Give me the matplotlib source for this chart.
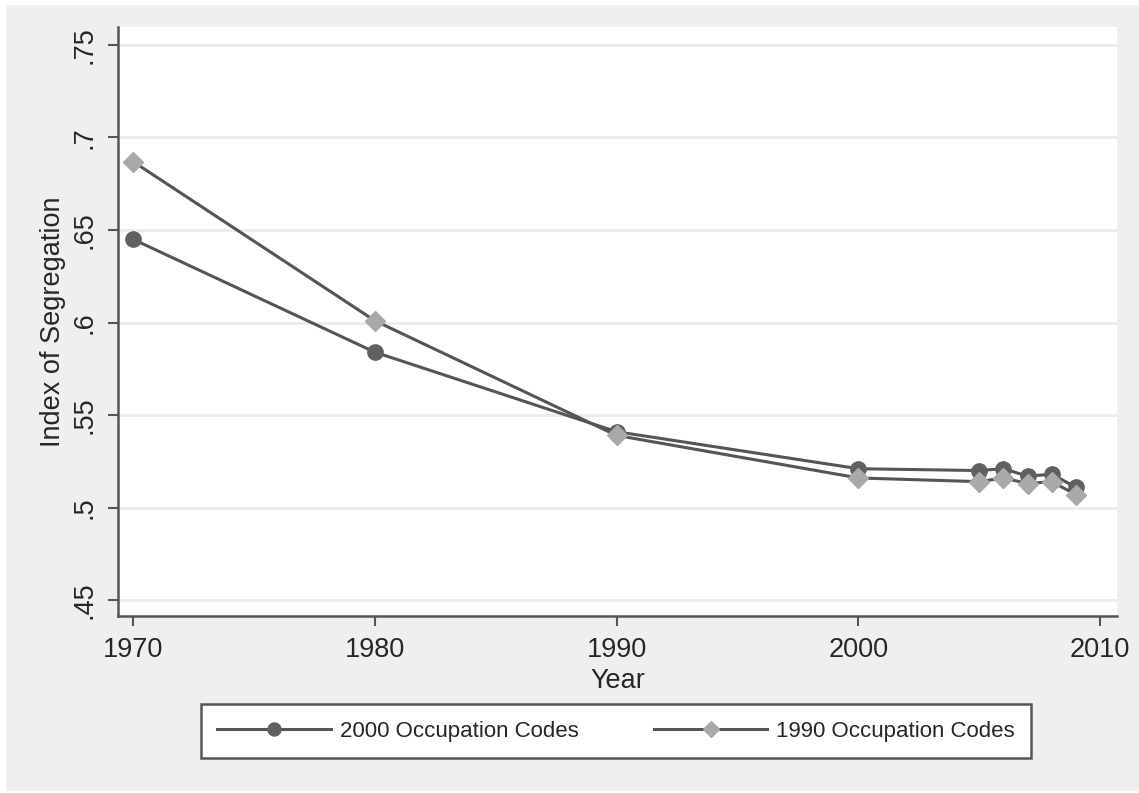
import matplotlib.pyplot as plt
from matplotlib.patches import Rectangle

# segregation index by year, two occupation coding schemes
years = [1970, 1980, 1990, 2000, 2005, 2006, 2007, 2008, 2009]
codes_2000 = [0.645, 0.584, 0.541, 0.521, 0.520, 0.521, 0.517, 0.518, 0.511]
codes_1990 = [0.687, 0.601, 0.539, 0.516, 0.514, 0.516, 0.513, 0.514, 0.507]

y_ticks = [0.45, 0.5, 0.55, 0.6, 0.65, 0.7, 0.75]
y_tick_labels = ['.45', '.5', '.55', '.6', '.65', '.7', '.75']
x_ticks = [1970, 1980, 1990, 2000, 2010]

plt.rcParams['font.family'] = ['Liberation Sans', 'DejaVu Sans']

W, H = 1139, 793
fig = plt.figure(figsize=(W / 100, H / 100), dpi=100, facecolor='white')
# light gray graph region, kept behind the axes
fig.patches.append(Rectangle((6 / W, 2 / H), 1 - 6 / W, 1 - 7 / H,
                             transform=fig.transFigure, facecolor='#efefef',
                             edgecolor='none', zorder=-5))

ax = fig.add_axes([118 / W, 1 - 616 / H, (1117 - 118) / W, (616 - 27) / H])
ax.set_facecolor('white')

line_col = '#555555'
text_col = '#262626'
ax.plot(years, codes_2000, color=line_col, lw=2.2, marker='o', ms=11,
        mfc='#606060', mec='#606060', label='2000 Occupation Codes', zorder=3)
ax.plot(years, codes_1990, color=line_col, lw=2.2, marker='D', ms=10,
        mfc='#a9a9a9', mec='#a9a9a9', label='1990 Occupation Codes', zorder=3)

ax.set_ylim(0.4414, 0.7597)
ax.set_xlim(1969.38, 2010.7)
ax.set_yticks(y_ticks)
ax.set_yticklabels(y_tick_labels, rotation=90, va='center')
ax.set_xticks(x_ticks)
ax.grid(axis='y', color='#ebebeb', lw=2)
ax.set_axisbelow(True)

for s in ['top', 'right']:
    ax.spines[s].set_visible(False)
for s in ['left', 'bottom']:
    ax.spines[s].set_color(line_col)
    ax.spines[s].set_linewidth(1.8)

ax.tick_params(axis='both', direction='out', length=7, width=1.5,
               color=line_col, labelsize=19.5, labelcolor=text_col, pad=8)

ax.set_xlabel('Year', fontsize=19.5, color=text_col, labelpad=4)
ax.set_ylabel('Index of Segregation', fontsize=19.5, color=text_col, labelpad=4)

leg = fig.legend(loc='center', bbox_to_anchor=(616 / W, 1 - 731 / H), ncol=2,
                 fontsize=16, frameon=True, fancybox=False, handlelength=5.1,
                 handletextpad=0.4, columnspacing=3.4, borderpad=0.75,
                 markerscale=0.85, edgecolor=line_col, facecolor='white',
                 framealpha=1)
leg.get_frame().set_linewidth(1.8)
for t in leg.get_texts():
    t.set_color(text_col)

fig.savefig('out.png', dpi=100, facecolor=fig.get_facecolor())
